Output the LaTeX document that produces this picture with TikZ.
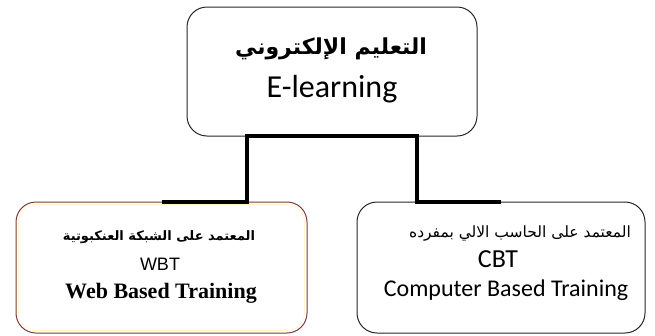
\documentclass[tikz,border=0pt]{standalone}
\usepackage{fontspec}
\setmainfont{Carlito}
\newfontfamily\arabicfont[Script=Arabic]{DejaVu Sans}
\newfontfamily\timesfont{Liberation Serif}
\newfontfamily\arialfont{Liberation Sans}
\TeXXeTstate=1
\definecolor{boxred}{HTML}{7A3C3C}
\definecolor{glow}{HTML}{FFF6CC}
\tikzset{
  box/.style={draw=black!85, line width=1pt, rounded corners=20pt, minimum width=#1},
  conn/.style={line width=4pt, line join=miter, line cap=butt},
  txt/.style={inner sep=0pt, anchor=base}
}
\begin{document}
\begin{tikzpicture}[x=1pt,y=-1pt]
\useasboundingbox (0,0) rectangle (655,335);
% boxes
\node[box=290pt, minimum height=129pt] (T) at (332,71.5) {};
\node[box=291pt, minimum height=131pt, draw=boxred] (L) at (161.5,267.5) {};
\draw[glow, line width=0.8pt, rounded corners=18pt] (18.5,204.5) rectangle (304.5,330.5);
\node[box=288pt, minimum height=131pt] (R) at (501,267.5) {};
% connectors
\coordinate (c1) at (247,136);
\coordinate (c2) at (417,136);
\draw[conn] (L.north) -| (c1) -- (c2) |- (R.north);
% top texts
\node[txt, font=\arabicfont\bfseries\fontsize{22}{26}\selectfont] (t1) at (331,54) {\beginR التعليم الإلكتروني\endR};
\node[txt, font=\fontsize{32}{36}\selectfont] (t2) at (332,97) {E-learning};
% left texts
\node[txt, font=\arabicfont\bfseries\fontsize{13}{16}\selectfont] (l1) at (159,240) {\beginR المعتمد على الشبكة العنكبوتية\endR};
\node[txt, font=\arialfont\fontsize{18}{21}\selectfont] (l2) at (160,270) {WBT};
\node[txt, font=\timesfont\bfseries\fontsize{22}{26}\selectfont] (l3) at (161,298) {Web Based Training};
% right texts
\node[txt, font=\arabicfont\fontsize{15.5}{18}\selectfont] (r1) at (520,237) {\beginR المعتمد على الحاسب الالي بمفرده\endR};
\node[txt, font=\fontsize{26}{30}\selectfont] (r2) at (498,267) {CBT};
\node[txt, font=\fontsize{24}{28}\selectfont] (r3) at (506,296) {Computer Based Training};
\end{tikzpicture}
\end{document}
